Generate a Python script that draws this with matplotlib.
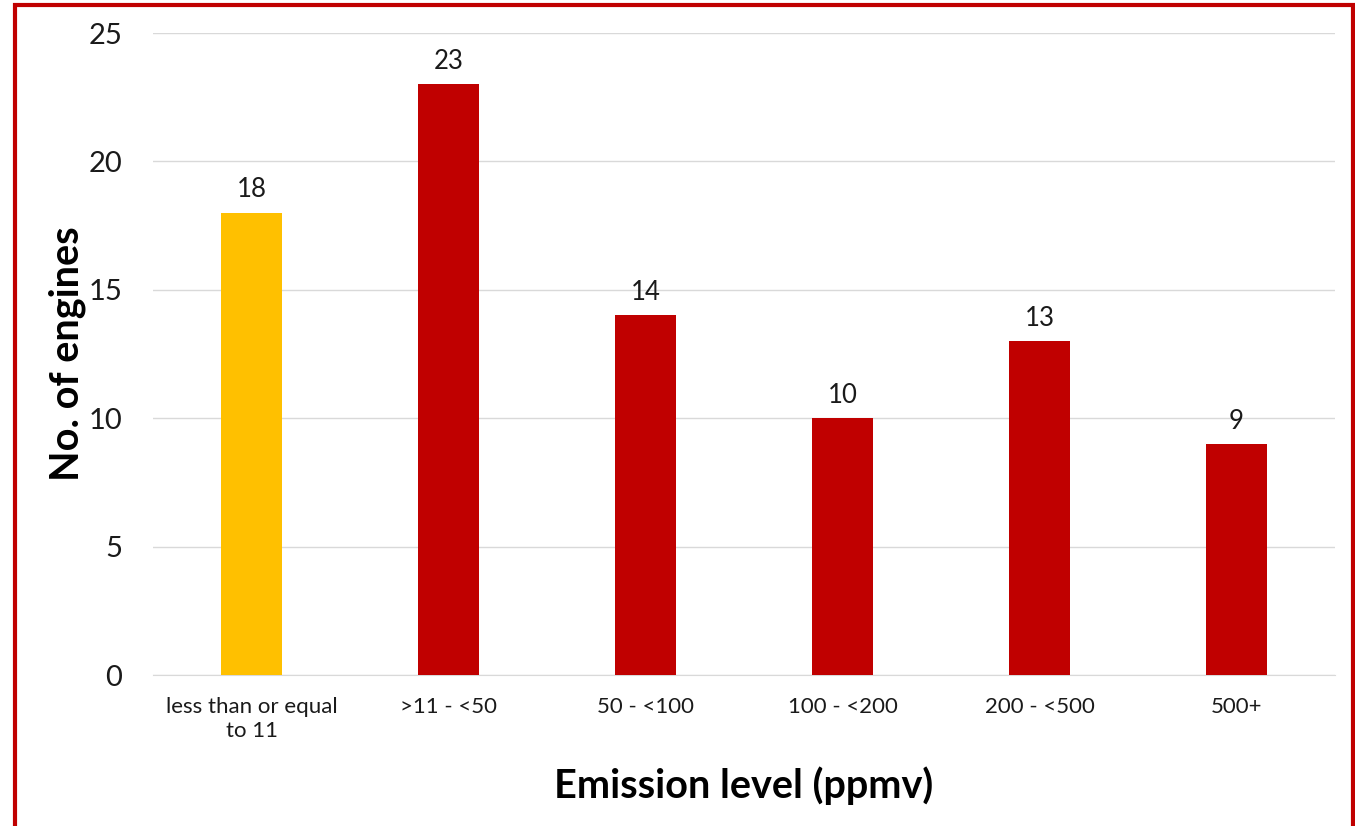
import matplotlib
matplotlib.use("Agg")
import matplotlib.pyplot as plt
from matplotlib.patches import Rectangle

categories = ["less than or equal\nto 11", ">11 - <50", "50 - <100", "100 - <200", "200 - <500", "500+"]
values = [18, 23, 14, 10, 13, 9]
bar_colors = ["#FFC000", "#C00000", "#C00000", "#C00000", "#C00000", "#C00000"]
yticks = [0, 5, 10, 15, 20, 25]

plt.rcParams['font.family'] = ['Lato', 'DejaVu Sans']

fig = plt.figure(figsize=(13.55, 8.26), dpi=100)
ax = fig.add_axes([153/1355, 1-675/826, (1335-153)/1355, (675-33)/826])

x = list(range(len(categories)))
bars = ax.bar(x, values, width=0.31, color=bar_colors, zorder=3)
for xi, v in zip(x, values):
    ax.text(xi, v + 0.4, str(v), ha='center', va='bottom', fontsize=18.5, color='#1a1a1a')

ax.set_xlim(-0.5, len(categories) - 0.5)
ax.set_ylim(0, 25)
ax.set_yticks(yticks)
ax.set_yticklabels([str(t) for t in yticks], fontsize=21, color='#1a1a1a')
ax.set_xticks(x)
ax.set_xticklabels(categories, fontsize=16, color='#1a1a1a', linespacing=1.25)
ax.tick_params(axis='both', length=0)
ax.tick_params(axis='y', pad=22)
ax.tick_params(axis='x', pad=16)
ax.grid(axis='y', color='#d9d9d9', linewidth=1, zorder=0)
for s in ['top', 'right', 'left']:
    ax.spines[s].set_visible(False)
ax.spines['bottom'].set_color('#d9d9d9')

ax.set_xlabel("Emission level (ppmv)", fontsize=28.5, fontweight='bold', labelpad=18)
ax.set_ylabel("No. of engines", fontsize=28.5, fontweight='bold', labelpad=2)

fig.patches.append(Rectangle((15/1355, -0.05), (1353-15)/1355, 1.05 - 5/826,
                             transform=fig.transFigure, fill=False,
                             edgecolor='#C00000', linewidth=3))

fig.savefig("out.png", dpi=100)
